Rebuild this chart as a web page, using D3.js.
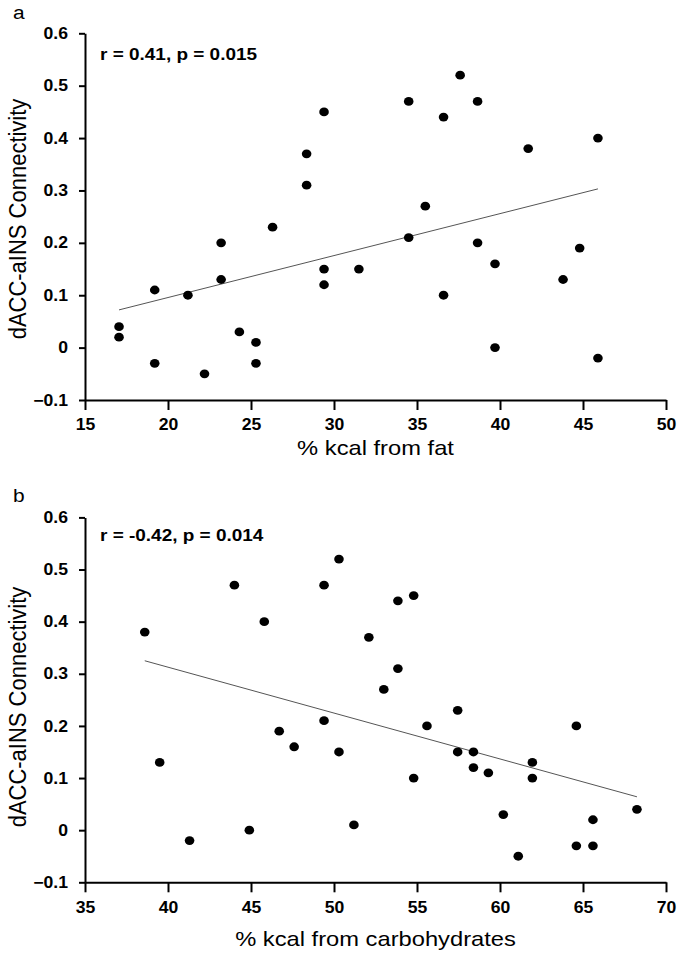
<!DOCTYPE html>
<html>
<head>
<meta charset="utf-8">
<script src="https://cdn.jsdelivr.net/npm/d3@7"></script>
<style>
  html, body { margin: 0; padding: 0; background: #fff; }
  svg { display: block; }
</style>
</head>
<body>
<svg id="chart" width="686" height="954"></svg>
<script>
// ---- Data ----
const yTicks = [-0.1, 0, 0.1, 0.2, 0.3, 0.4, 0.5, 0.6];
const fatTicks = [15, 20, 25, 30, 35, 40, 45, 50];
const carbTicks = [35, 40, 45, 50, 55, 60, 65, 70];

const fatX = [17.05, 17.05, 19.2, 19.2, 21.2, 22.2, 23.2, 23.2, 24.3, 25.3, 25.3, 26.3, 29.4, 29.4, 29.4, 28.35, 28.35,
              34.5, 37.6, 38.65, 36.6, 41.7, 45.9, 35.5, 34.5, 31.5, 38.65, 39.7, 36.6, 44.8, 43.8, 39.7, 45.9];
const fatY = [0.04, 0.02, 0.11, -0.03, 0.10, -0.05, 0.20, 0.13, 0.03, 0.01, -0.03, 0.23, 0.15, 0.12, 0.45, 0.37, 0.31,
              0.47, 0.52, 0.47, 0.44, 0.38, 0.40, 0.27, 0.21, 0.15, 0.20, 0.16, 0.10, 0.19, 0.13, 0.00, -0.02];
const fatTrendX = [17.05, 45.9];
const fatTrendY = [0.072, 0.303];

const carbX = [38.6, 44.0, 45.8, 49.4, 50.3, 53.85, 54.8, 52.1, 53.85, 39.5, 41.3, 44.9, 46.7, 47.6, 49.4, 50.3, 53.0,
               57.45, 55.6, 57.45, 58.4, 58.4, 59.3, 61.95, 61.95, 54.8, 64.6, 68.25, 60.2, 51.2, 65.6, 64.6, 65.6, 61.1];
const carbY = [0.38, 0.47, 0.40, 0.47, 0.52, 0.44, 0.45, 0.37, 0.31, 0.13, -0.02, 0.00, 0.19, 0.16, 0.21, 0.15, 0.27,
               0.23, 0.20, 0.15, 0.15, 0.12, 0.11, 0.13, 0.10, 0.10, 0.20, 0.04, 0.03, 0.01, 0.02, -0.03, -0.03, -0.05];
const carbTrendX = [38.6, 68.25];
const carbTrendY = [0.325, 0.064];

const panels = [
  { letter: "a", stat: "r = 0.41, p = 0.015", xTitle: "% kcal from fat",
    xs: fatX, ys: fatY, tx: fatTrendX, ty: fatTrendY, xDomain: [15, 50], xTicks: fatTicks,
    top: 33.3, bottom: 400, letterY: 19, statY: 60, titleY: 455, yTitleC: 219 },
  { letter: "b", stat: "r = -0.42, p = 0.014", xTitle: "% kcal from carbohydrates",
    xs: carbX, ys: carbY, tx: carbTrendX, ty: carbTrendY, xDomain: [35, 70], xTicks: carbTicks,
    top: 517.4, bottom: 882.3, letterY: 502, statY: 541, titleY: 946, yTitleC: 707 }
];

const FONT = "Arial, 'Liberation Sans', Helvetica, sans-serif";
const SX = 1.12; // horizontal stretch of the source picture's text
const svg = d3.select("#chart");
const left = 85, right = 666;

function hText(x0, y0, str, size, weight, anchor, sx) {
  return svg.append("text")
    .attr("transform", `translate(${x0},${y0}) scale(${sx},1)`)
    .attr("text-anchor", anchor || "start")
    .attr("font-family", FONT).attr("font-size", size)
    .attr("font-weight", weight || "normal").attr("fill", "#000")
    .text(str);
}

panels.forEach(p => {
  const x = d3.scaleLinear().domain(p.xDomain).range([left, right]);
  const y = d3.scaleLinear().domain([-0.1, 0.6]).range([p.bottom, p.top]);
  const g = svg.append("g");

  // trend line
  g.append("line")
    .attr("x1", x(p.tx[0])).attr("y1", y(p.ty[0]))
    .attr("x2", x(p.tx[1])).attr("y2", y(p.ty[1]))
    .attr("stroke", "#555").attr("stroke-width", 1);

  // points
  g.selectAll("ellipse").data(d3.range(p.xs.length)).join("ellipse")
    .attr("cx", i => x(p.xs[i])).attr("cy", i => y(p.ys[i]))
    .attr("rx", 4.8).attr("ry", 4.4).attr("fill", "#000");

  // axes
  const yAxis = d3.axisLeft(y).tickValues(yTicks)
    .tickFormat(d => Math.abs(d) < 1e-9 ? "0" : d3.format(".1f")(d))
    .tickSize(6).tickSizeOuter(0).tickPadding(11);
  const xAxis = d3.axisBottom(x).tickValues(p.xTicks)
    .tickFormat(d3.format("d"))
    .tickSize(10).tickSizeOuter(0).tickPadding(9);

  const ya = g.append("g").attr("transform", `translate(${left},0)`).call(yAxis);
  const xa = g.append("g").attr("transform", `translate(0,${p.bottom})`).call(xAxis);
  [ya, xa].forEach(a => {
    a.selectAll("path, line").attr("stroke", "#000").attr("stroke-width", 2);
    a.selectAll("text").attr("font-family", FONT).attr("font-size", 16)
      .attr("font-weight", "bold").attr("fill", "#000")
      .each(function () {
        const t = d3.select(this);
        const xv = +(t.attr("x") || 0);
        t.attr("x", xv / 1.1).attr("transform", "scale(1.1,1)");
      });
  });

  // panel letter
  hText(13, p.letterY, p.letter, 19, "normal", "start", 1.1);
  // statistic
  hText(100, p.statY, p.stat, 16.5, "bold", "start", 1.15);
  // x title
  hText((left + right) / 2, p.titleY, p.xTitle, 21, "normal", "middle", 1.13);

  // y title (vertical reading direction is not stretched)
  svg.append("text").attr("transform", `translate(25.5,${p.yTitleC}) rotate(-90) scale(1,1.1)`)
    .text("dACC-aINS Connectivity")
    .attr("text-anchor", "middle").attr("font-family", FONT).attr("font-size", 22).attr("fill", "#000");
});
</script>
</body>
</html>
